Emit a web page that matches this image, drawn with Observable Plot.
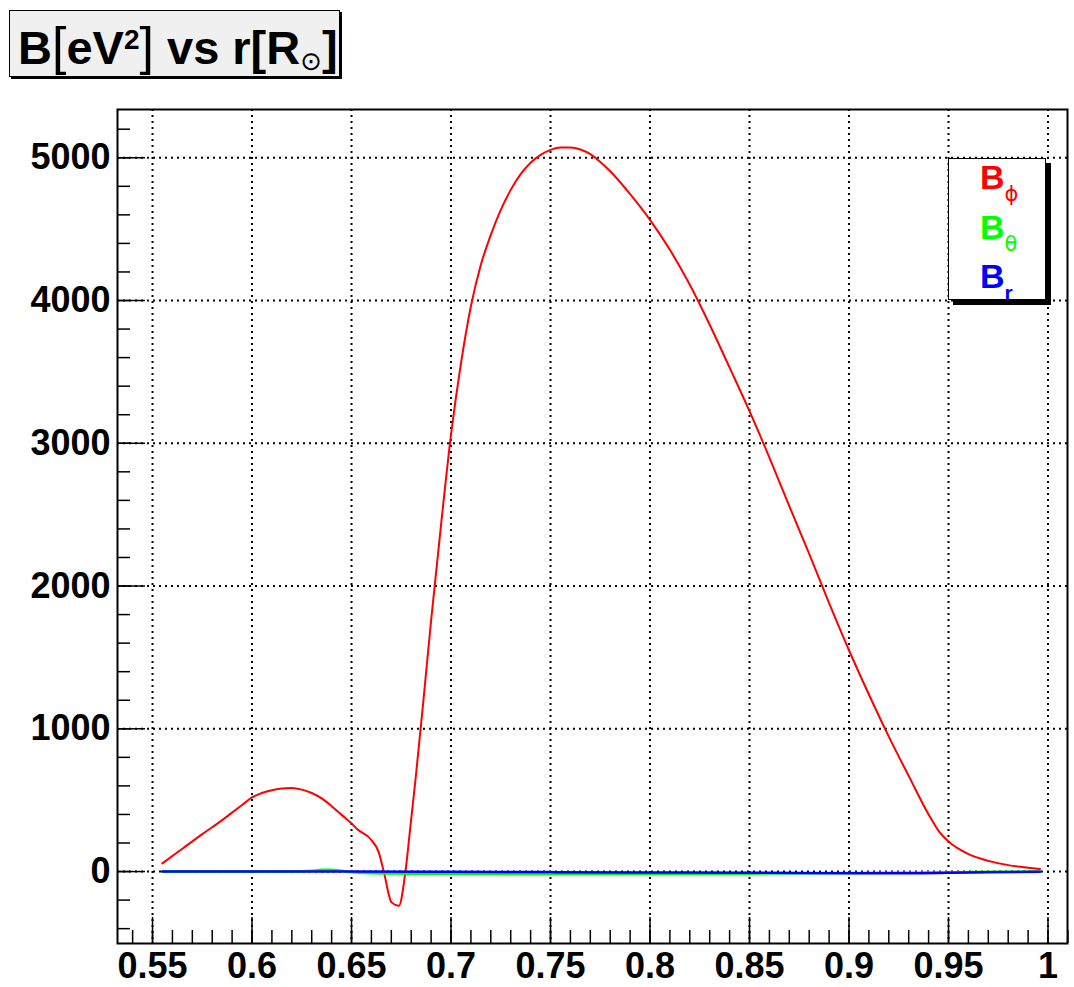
<!DOCTYPE html>
<html>
<head>
<meta charset="utf-8">
<script src="https://cdn.jsdelivr.net/npm/d3@7"></script>
<script src="https://cdn.jsdelivr.net/npm/@observablehq/plot@0.6"></script>
<style>
html, body { margin: 0; padding: 0; background: #ffffff; }
#wrap { position: relative; width: 1074px; height: 987px; overflow: hidden; font-family: "Liberation Sans", Arial, Helvetica, sans-serif; }
#chart { position: absolute; left: 0; top: 0; }
#title { position: absolute; left: 9px; top: 10px; width: 329px; height: 65px; background: #f0f0f0; border: 1px solid #000; box-shadow: 2px 2px 0 #000; }
#legend { position: absolute; left: 948px; top: 158px; width: 96px; height: 140px; background: #ffffff; border: 1px solid #000; box-shadow: 5px 5px 0 #000; }
#title svg, #legend svg { position: absolute; left: 0; top: 0; overflow: visible; }
</style>
</head>
<body>
<div id="wrap">
  <div id="chart"></div>
  <div id="title"></div>
  <div id="legend"></div>
</div>
<script>
// ---- data ----
const redR = [0.5549, 0.5650, 0.5750, 0.5850, 0.5900, 0.5950, 0.6000, 0.6050, 0.6100, 0.6150, 0.6200, 0.6250, 0.6300, 0.6350, 0.6400, 0.6450, 0.6503, 0.6528, 0.6595, 0.6637, 0.6662, 0.6701, 0.6738, 0.6771, 0.6797, 0.6822, 0.6860, 0.6900, 0.6950, 0.7000, 0.7050, 0.7100, 0.7150, 0.7200, 0.7250, 0.7300, 0.7350, 0.7400, 0.7450, 0.7500, 0.7550, 0.7600, 0.7650, 0.7700, 0.7750, 0.7800, 0.7900, 0.8000, 0.8100, 0.8200, 0.8300, 0.8400, 0.8500, 0.8600, 0.8700, 0.8800, 0.8900, 0.9000, 0.9100, 0.9200, 0.9300, 0.9400, 0.9450, 0.9500, 0.9550, 0.9600, 0.9700, 0.9800, 0.9900, 0.9960];
const redB = [57, 160, 262, 360, 413, 466, 519, 550, 570, 581, 585, 574, 550, 512, 458, 397, 333, 298, 228, 134, 0, -216, -240, 0, 330, 650, 1180, 1760, 2430, 3060, 3560, 3960, 4250, 4460, 4635, 4775, 4885, 4965, 5020, 5055, 5072, 5072, 5058, 5025, 4970, 4905, 4745, 4565, 4355, 4110, 3830, 3530, 3225, 2900, 2560, 2225, 1880, 1550, 1240, 945, 670, 400, 285, 210, 160, 122, 75, 45, 27, 18];

const greenR = [0.5549, 0.6000, 0.6200, 0.6300, 0.6350, 0.6400, 0.6450, 0.6500, 0.6600, 0.6800, 0.7000, 0.7500, 0.8000, 0.8500, 0.9000, 0.9500, 0.9700, 0.9960];
const greenB = [0, 0, 0, 5, 12, 12, 5, -5, -12, -15, -15, -18, -18, -15, -10, -6, -2, 0];

const blueR = [0.5549, 0.6500, 0.7000, 0.7500, 0.8000, 0.8500, 0.9000, 0.9300, 0.9500, 0.9700, 0.9960];
const blueB = [0, 0, -2, -4, -6, -8, -12, -12, -9, -5, -2];

const xTicks = [0.55, 0.6, 0.65, 0.7, 0.75, 0.8, 0.85, 0.9, 0.95, 1];
const xTickLabels = ["0.55", "0.6", "0.65", "0.7", "0.75", "0.8", "0.85", "0.9", "0.95", "1"];
const yTicks = [0, 1000, 2000, 3000, 4000, 5000];
const yTickLabels = ["0", "1000", "2000", "3000", "4000", "5000"];

const seriesNames = ["ϕ", "θ", "r"];
const seriesColors = ["#ff0000", "#00ff00", "#0000ff"];

// ---- tables ----
const toRows = (rs, bs) => rs.map((r, i) => ({r, b: bs[i]}));
const red = toRows(redR, redB);
const green = toRows(greenR, greenB);
const blue = toRows(blueR, blueB);

const xMinor = d3.range(54, 102).map(d => d / 100);
const yMinor = d3.range(-400, 5400, 200);
const xLab = new Map(xTicks.map((d, i) => [d, xTickLabels[i]]));
const yLab = new Map(yTicks.map((d, i) => [d, yTickLabels[i]]));

const W = 1074, H = 987, mL = 117, mT = 109, mR = 7, mB = 44;
const fw = W - mL - mR, fh = H - mT - mB;
const font = "'Liberation Sans', Arial, Helvetica, sans-serif";

const chart = Plot.plot({
  width: W, height: H,
  marginLeft: mL, marginTop: mT, marginRight: mR, marginBottom: mB,
  x: {domain: [0.5324, 1.0098], label: null, axis: null},
  y: {domain: [-504, 5338], label: null, axis: null},
  style: {fontFamily: font, fontWeight: "bold", fontSize: "36px", color: "black", background: "white", overflow: "visible"},
  marks: [
    Plot.gridX(xTicks, {stroke: "black", strokeOpacity: 1, strokeWidth: 2, strokeDasharray: "2,4"}),
    Plot.gridY(yTicks, {stroke: "black", strokeOpacity: 1, strokeWidth: 2, strokeDasharray: "2,4"}),
    Plot.tickX(xMinor, {insetTop: fh - 13, stroke: "black", strokeWidth: 1.5}),
    Plot.tickX(xTicks, {insetTop: fh - 26, stroke: "black", strokeWidth: 1.5}),
    Plot.tickY(yMinor, {insetRight: fw - 13, stroke: "black", strokeWidth: 1.5}),
    Plot.tickY(yTicks, {insetRight: fw - 28, stroke: "black", strokeWidth: 1.5}),
    Plot.axisX(xTicks, {tickSize: 0, tickPadding: 9, tickFormat: d => xLab.get(d), fontSize: 36, fontWeight: "bold", label: null}),
    Plot.axisY(yTicks, {tickSize: 0, tickPadding: 7, tickFormat: d => yLab.get(d), fontSize: 36, fontWeight: "bold", label: null}),
    Plot.line(red, {x: "r", y: "b", stroke: seriesColors[0], strokeWidth: 2, curve: "monotone-x"}),
    Plot.line(green, {x: "r", y: "b", stroke: seriesColors[1], strokeWidth: 2.5, curve: "monotone-x"}),
    Plot.line(blue, {x: "r", y: "b", stroke: seriesColors[2], strokeWidth: 2.5, curve: "monotone-x"}),
    Plot.frame({stroke: "black", strokeWidth: 2})
  ]
});
document.getElementById("chart").appendChild(chart);

// ---- title box ----
document.getElementById("title").innerHTML =
  `<svg width="329" height="65" font-family="${font}">
     <text x="8" y="53" font-size="47" font-weight="bold" fill="#000">B<tspan font-weight="normal" font-size="52">[</tspan>eV<tspan font-size="28" baseline-shift="super">2</tspan><tspan font-weight="normal" font-size="52">]</tspan> vs r[R<tspan font-size="26" font-weight="normal" font-family="DejaVu Sans" baseline-shift="-6">⊙</tspan>]</text>
   </svg>`;

// ---- legend box ----
const legY = [30, 80, 129];
document.getElementById("legend").innerHTML =
  `<svg width="96" height="140" font-family="${font}">` +
  seriesNames.map((s, i) =>
    `<text x="31" y="${legY[i]}" font-size="34" font-weight="bold" fill="${seriesColors[i]}">B<tspan font-size="21" font-weight="${s === "r" ? "bold" : "normal"}" font-family="${s === "r" ? font : "'DejaVu Sans', sans-serif"}" baseline-shift="sub">${s}</tspan></text>`
  ).join("") + `</svg>`;
</script>
</body>
</html>
